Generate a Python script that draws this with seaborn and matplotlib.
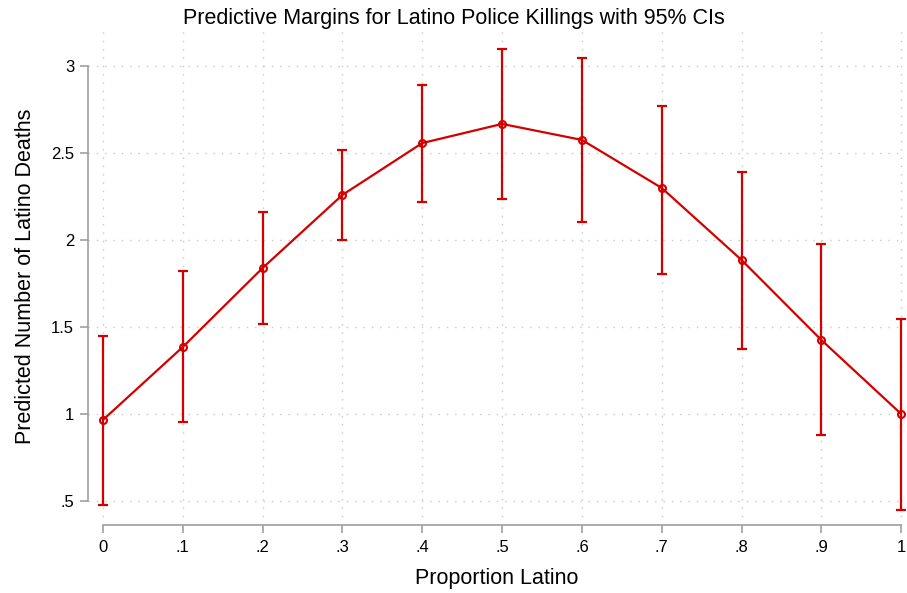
import numpy as np
import pandas as pd
import matplotlib
matplotlib.use("Agg")
import matplotlib.pyplot as plt
import seaborn as sns

# values
proportion = [0.0, 0.1, 0.2, 0.3, 0.4, 0.5, 0.6, 0.7, 0.8, 0.9, 1.0]
margin = [0.966, 1.385, 1.839, 2.259, 2.557, 2.667, 2.575, 2.299, 1.885, 1.425, 1.0]
ci_low = [0.477, 0.954, 1.517, 2.000, 2.218, 2.236, 2.103, 1.807, 1.374, 0.879, 0.448]
ci_high = [1.448, 1.822, 2.161, 2.517, 2.890, 3.098, 3.043, 2.770, 2.390, 1.977, 1.546]

x_ticks = [0, 0.1, 0.2, 0.3, 0.4, 0.5, 0.6, 0.7, 0.8, 0.9, 1.0]
x_labels = ["0", ".1", ".2", ".3", ".4", ".5", ".6", ".7", ".8", ".9", "1"]
y_ticks = [0.5, 1.0, 1.5, 2.0, 2.5, 3.0]
y_labels = [".5", "1", "1.5", "2", "2.5", "3"]

df = pd.DataFrame({"x": proportion, "y": margin, "lo": ci_low, "hi": ci_high})

sns.set_theme(style="white")
plt.rcParams["font.family"] = ["Liberation Sans", "DejaVu Sans"]

red = "#d40000"
fig = plt.figure(figsize=(9.07, 5.93), dpi=100)
ax = fig.add_axes([0.097, 0.1147, 0.901, 0.838])

# error bars (CIs)
ax.errorbar(df["x"], df["y"],
            yerr=[df["y"] - df["lo"], df["hi"] - df["y"]],
            fmt="none", ecolor=red, elinewidth=1.6, capsize=3.6, capthick=1.6, zorder=3)

sns.lineplot(data=df, x="x", y="y", ax=ax, color=red, linewidth=1.6,
             marker="o", markersize=5, markerfacecolor="none",
             markeredgecolor=red, markeredgewidth=1.5, zorder=4)

ax.set_xlim(-0.0188, 1.005)
ax.set_ylim(0.362, 3.218)
ax.set_xticks(x_ticks)
ax.set_xticklabels(x_labels)
ax.set_yticks(y_ticks)
ax.set_yticklabels(y_labels)

ax.grid(True, linestyle=(0, (1, 5)), color="#c8c8c8", linewidth=1.0)
ax.set_axisbelow(True)

for side in ["top", "right"]:
    ax.spines[side].set_visible(False)
for side in ["left", "bottom"]:
    ax.spines[side].set_color("#a0a0a0")
    ax.spines[side].set_linewidth(1.2)
ax.spines["left"].set_bounds(0.5, 3.0)
ax.spines["bottom"].set_bounds(0.0, 1.0)

ax.tick_params(axis="both", which="major", direction="out", length=6, width=1.2,
               color="#a0a0a0", labelcolor="black", labelsize=12,
               left=True, bottom=True)
ax.tick_params(axis="x", pad=5)
ax.tick_params(axis="y", pad=4)

ax.set_xlabel("Proportion Latino", fontsize=15.5, color="black", labelpad=9)
ax.set_ylabel("Predicted Number of Latino Deaths", fontsize=15.5, color="black", labelpad=11)
fig.text(0.5, 0.969, "Predictive Margins for Latino Police Killings with 95% CIs",
         ha="center", va="center", fontsize=15.5, color="black")

fig.savefig("out.png", dpi=100)
